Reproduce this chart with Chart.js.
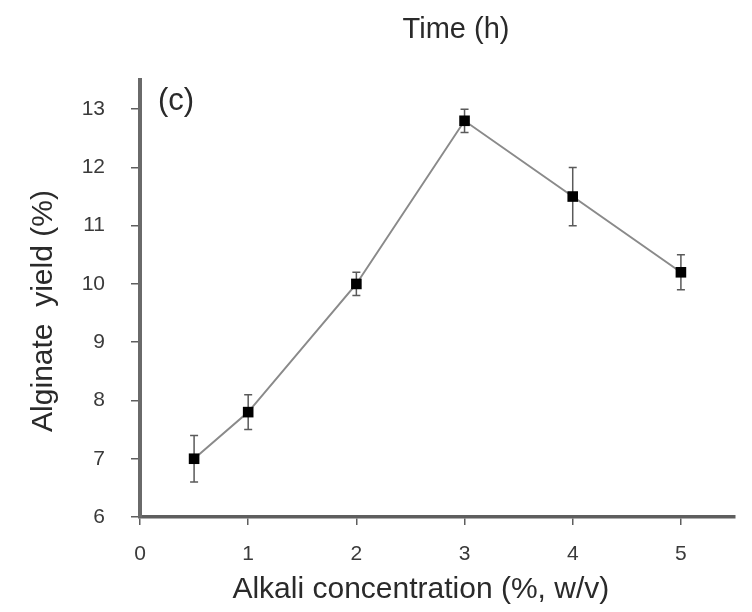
<!DOCTYPE html>
<html>
<head>
<meta charset="utf-8">
<script src="https://cdn.jsdelivr.net/npm/chart.js@4.4.1/dist/chart.umd.min.js"></script>
<style>
html,body{margin:0;padding:0;background:#fff;}
canvas{display:block;}
</style>
</head>
<body>
<canvas id="c" width="752" height="612"></canvas>
<script>
const concentrations = [0.5, 1, 2, 3, 4, 5];
const yieldValues = [7.0, 7.8, 10.0, 12.8, 11.5, 10.2];
const errLow = [6.6, 7.5, 9.8, 12.6, 11.0, 9.9];
const errHigh = [7.4, 8.1, 10.2, 13.0, 12.0, 10.5];
const xTicks = [0, 1, 2, 3, 4, 5];
const yTicks = [6, 7, 8, 9, 10, 11, 12, 13];
const topTitle = 'Time (h)';
const panelLabel = '(c)';

const FONT = "'Liberation Sans', Arial, sans-serif";

const errorBars = {
  id: 'errorBars',
  beforeDatasetsDraw(chart) {
    const {ctx, scales: {x, y}} = chart;
    ctx.save();
    ctx.strokeStyle = '#5a5a5a';
    ctx.lineWidth = 1.5;
    concentrations.forEach((c, i) => {
      const px = x.getPixelForValue(c);
      const lo = y.getPixelForValue(errLow[i]);
      const hi = y.getPixelForValue(errHigh[i]);
      ctx.beginPath();
      ctx.moveTo(px, lo); ctx.lineTo(px, hi);
      ctx.moveTo(px - 4, lo); ctx.lineTo(px + 4, lo);
      ctx.moveTo(px - 4, hi); ctx.lineTo(px + 4, hi);
      ctx.stroke();
    });
    ctx.restore();
  }
};

const texts = {
  id: 'texts',
  afterDraw(chart) {
    const {ctx} = chart;
    ctx.save();
    ctx.fillStyle = '#2a2a2a';
    ctx.textBaseline = 'middle';
    ctx.textAlign = 'center';
    ctx.font = '29px ' + FONT;
    ctx.fillText(topTitle, 456, 30);
    ctx.textAlign = 'left';
    ctx.font = '31px ' + FONT;
    ctx.fillText(panelLabel, 158, 101);
    ctx.restore();
  }
};

new Chart(document.getElementById('c'), {
  type: 'line',
  data: {
    datasets: [{
      data: concentrations.map((c, i) => ({x: c, y: yieldValues[i]})),
      borderColor: '#8a8a8a',
      borderWidth: 2,
      pointStyle: 'rect',
      pointRadius: 7.5,
      pointBackgroundColor: '#000',
      pointBorderColor: '#000',
      pointBorderWidth: 0,
      tension: 0
    }]
  },
  options: {
    responsive: false,
    animation: false,
    layout: {padding: {top: 80, right: 17, left: 0, bottom: 0}},
    plugins: {legend: {display: false}, tooltip: {enabled: false}},
    scales: {
      x: {
        type: 'linear',
        min: 0, max: 5.5,
        afterBuildTicks: s => { s.ticks = xTicks.map(v => ({value: v})); },
        afterFit: s => { s.height = 95; },
        border: {color: '#5e5e5e', width: 3.5},
        grid: {display: true, drawOnChartArea: false, drawTicks: true, tickLength: 8, color: '#5e5e5e', lineWidth: 1.5},
        ticks: {padding: 17, color: '#3a3a3a', font: {family: FONT, size: 21}},
        title: {display: true, text: 'Alkali concentration (%, w/v)    ', color: '#2a2a2a', font: {family: FONT, size: 30}, padding: {top: 0, bottom: 4}}
      },
      y: {
        type: 'linear',
        min: 6, max: 13.5,
        afterBuildTicks: s => { s.ticks = yTicks.map(v => ({value: v})); },
        afterFit: s => { s.width = 140; },
        border: {color: '#6a6a6a', width: 4},
        grid: {display: true, drawOnChartArea: false, drawTicks: true, tickLength: 9, color: '#5e5e5e', lineWidth: 1.5},
        ticks: {padding: 26, color: '#3a3a3a', font: {family: FONT, size: 21}},
        title: {display: true, text: 'Alginate  yield (%)   ', color: '#2a2a2a', font: {family: FONT, size: 30}, padding: {top: 26, bottom: 0}}
      }
    }
  },
  plugins: [errorBars, texts]
});
</script>
</body>
</html>
